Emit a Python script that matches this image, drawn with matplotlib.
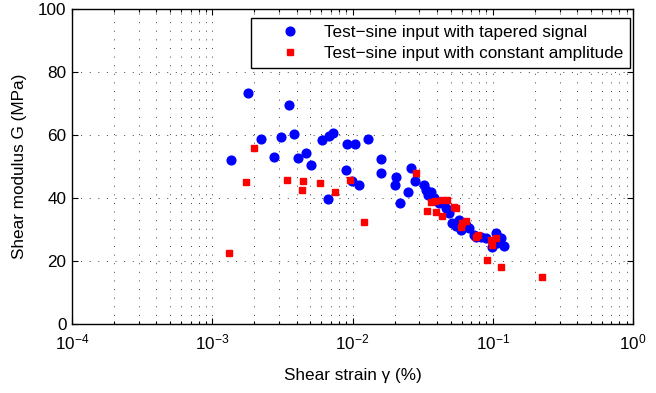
import matplotlib
matplotlib.use("Agg")
import matplotlib.pyplot as plt
import numpy as np
from matplotlib.ticker import LogLocator, FixedLocator, NullLocator

plt.rcParams['font.family'] = ['Liberation Sans', 'DejaVu Sans']
plt.rcParams['mathtext.fontset'] = 'custom'
plt.rcParams['mathtext.rm'] = 'Liberation Sans'
plt.rcParams['mathtext.it'] = 'Liberation Sans:italic'
plt.rcParams['mathtext.bf'] = 'Liberation Sans:bold'
plt.rcParams['lines.scale_dashes'] = False

# Test-sine input with tapered signal
blue_x = [0.00135, 0.00179, 0.00223, 0.00276, 0.00308, 0.00351, 0.00381, 0.00407,
          0.00464, 0.00509, 0.00604, 0.00667, 0.00678, 0.00723, 0.00901, 0.0092,
          0.00984, 0.0104, 0.0111, 0.0129, 0.0160, 0.0160, 0.0200, 0.0205, 0.0218,
          0.0248, 0.0260, 0.0278, 0.0323, 0.0332, 0.0345, 0.0360, 0.0381, 0.0413,
          0.0461, 0.0487, 0.0515, 0.0544, 0.0574, 0.0591, 0.0607, 0.0641, 0.0677,
          0.0735, 0.0757, 0.0820, 0.0891, 0.0995, 0.105, 0.107, 0.114, 0.1206]
blue_G = [52.2, 73.3, 58.6, 53.1, 59.3, 69.5, 60.4, 52.8,
          54.2, 50.6, 58.4, 39.6, 59.8, 60.5, 48.9, 57.1,
          45.5, 57.1, 44.2, 58.6, 52.4, 48.0, 44.0, 46.7, 38.3,
          41.8, 49.4, 45.4, 44.1, 42.5, 41.0, 42.0, 39.9, 38.3,
          36.7, 35.1, 32.0, 31.1, 33.0, 29.8, 30.9, 31.4, 30.4,
          28.3, 27.7, 27.7, 27.2, 24.5, 29.0, 25.6, 27.2, 24.9]

# Test-sine input with constant amplitude
red_x = [0.00132, 0.00174, 0.00200, 0.00341, 0.00437, 0.00444, 0.00588, 0.00748,
         0.00964, 0.0121, 0.0285, 0.0341, 0.0360, 0.0391, 0.0390, 0.0435, 0.0432,
         0.0475, 0.0527, 0.0544, 0.0591, 0.0607, 0.0641, 0.0757, 0.0779, 0.0906,
         0.0968, 0.0995, 0.105, 0.115, 0.224]
red_G = [22.4, 45.1, 55.9, 45.6, 42.4, 45.5, 44.7, 41.8,
         45.6, 32.4, 48.0, 35.9, 38.8, 35.7, 39.0, 39.4, 34.3,
         39.4, 37.2, 36.9, 30.9, 32.0, 32.8, 27.7, 28.3, 20.3,
         26.7, 25.1, 27.2, 18.2, 14.8]

labels = ['Test\u2212sine input with tapered signal',
          'Test\u2212sine input with constant amplitude']
y_ticks = [0, 20, 40, 60, 80, 100]

FS = 12.3

fig = plt.figure(figsize=(6.56, 3.93), dpi=100)
ax = fig.add_axes([72/656, 69/393, 561/656, 315/393])

ax.plot(blue_x, blue_G, 'o', color='#0000ff', mec='#0000ff', ms=6.3, label=labels[0], zorder=3)
ax.plot(red_x, red_G, 's', color='#ff0000', mec='#ff0000', ms=4.9, label=labels[1], zorder=4)

ax.set_xscale('log')
ax.set_xlim(1e-4, 1)
ax.set_ylim(0, 100)
ax.xaxis.set_major_locator(LogLocator(base=10, numticks=10))
ax.xaxis.set_minor_locator(LogLocator(base=10, subs=np.arange(2, 10), numticks=20))
ax.yaxis.set_major_locator(FixedLocator(y_ticks))
ax.yaxis.set_minor_locator(NullLocator())

grid_kw = dict(color='#222222', linewidth=0.6, linestyle=(0, (0.7, 5.5)))
ax.grid(True, which='both', axis='x', **grid_kw)
ax.grid(True, which='major', axis='y', **grid_kw)
ax.set_axisbelow(True)

ax.tick_params(which='both', direction='in', top=True, right=True, labelsize=FS, width=0.8)
ax.tick_params(which='major', length=4.5)
ax.tick_params(which='minor', length=2.5)
ax.tick_params(axis='x', pad=6)
ax.tick_params(axis='y', pad=4)
for s in ax.spines.values():
    s.set_linewidth(1.0)
    s.set_color('black')

ax.set_xlabel('Shear strain \u03b3 (%)', fontsize=FS, labelpad=11)
ax.set_ylabel('Shear modulus G (MPa)', fontsize=FS, labelpad=8)

leg = ax.legend(loc='upper right', bbox_to_anchor=(0.9947, 0.9705), fontsize=FS,
                handlelength=3.78, handletextpad=0.12, borderpad=0.38, labelspacing=0.37,
                numpoints=1, fancybox=False, framealpha=1, edgecolor='black',
                borderaxespad=0.0)
leg.get_frame().set_linewidth(1.0)

fig.savefig('out.png', dpi=100)
